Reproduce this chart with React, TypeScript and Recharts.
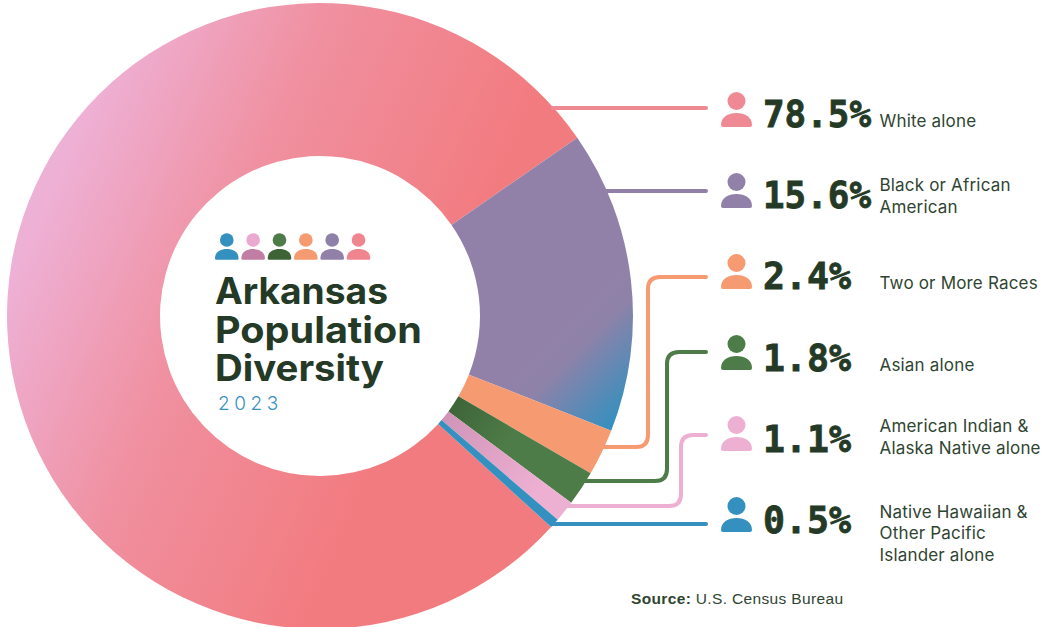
import { PieChart, Pie, Cell } from "recharts";

const categories = ["White alone", "Black or African American", "Two or More Races", "Asian alone", "American Indian & Alaska Native alone", "Native Hawaiian & Other Pacific Islander alone"];
const shares = [78.5, 15.6, 2.4, 1.8, 1.1, 0.5];
const shareLabels = ["78.5%", "15.6%", "2.4%", "1.8%", "1.1%", "0.5%"];
const labelLines = [["White alone"], ["Black or African", "American"], ["Two or More Races"], ["Asian alone"], ["American Indian &", "Alaska Native alone"], ["Native Hawaiian &", "Other Pacific", "Islander alone"]];
const sliceFills = ["url(#whiteFill)", "url(#blackFill)", "#f69a72", "url(#asianFill)", "url(#nativeFill)", "#3490bf"];
const rowColors = ["#ef8a95", "#9181a8", "#f69a72", "#4e7c48", "#eeb0d2", "#3490bf"];

// leader routing: row height on the right, then the elbow column and the height it leaves the ring at
const leaderY = [108, 191, 277, 352, 435, 524];
const elbowX = [0, 0, 648, 667, 681, 0];
const exitY = [0, 0, 447, 481, 506, 0];
const rowHeadY = [101, 182, 263, 344, 425, 506];
const numberBaseline = [127, 208, 289, 371, 452, 533];
const labelBaseline = [[127], [191, 213], [289], [371], [432, 454], [518, 539, 561]];
const numberWidths = [108, 108, 88, 88, 88, 88];

const titleLines = ["Arkansas", "Population", "Diversity"];
const titleWidths = [173, 207, 169];
const titleHeads = ["#3490bf", "#eaa9cf", "#4e7c48", "#f69a72", "#8f80a8", "#f0858f"];
const titleBodies = ["#3490bf", "#c27da4", "#3d6337", "#f69a72", "#9181a8", "#f0858f"];

const INK = "#243a26";
const tableData = categories.map((name, i) => ({ name, value: shares[i] }));

function Person({ x, headY, scale, head, body }: { x: number; headY: number; scale: number; head: string; body: string }) {
  return (
    <g transform={`translate(${x} ${headY}) scale(${scale})`}>
      <circle cx={15.5} cy={0} r={9} fill={head} />
      <path d="M0 24 C0 16 7 12 15.5 12 C24 12 31 16 31 24 Q31 26 29 26 H2 Q0 26 0 24 Z" fill={body} />
    </g>
  );
}

function renderRow(props: any) {
  const { index: i, cx, cy, outerRadius } = props;
  const y = leaderY[i];
  const low = exitY[i] || y;
  const startX = cx + Math.sqrt(outerRadius * outerRadius - (low - cy) * (low - cy)) - 1;
  const r = 12;
  const d = elbowX[i]
    ? `M${startX} ${low} H${elbowX[i] - r} Q${elbowX[i]} ${low} ${elbowX[i]} ${low - r} V${y + r} Q${elbowX[i]} ${y} ${elbowX[i] + r} ${y} H706`
    : `M${startX} ${y} H706`;
  return (
    <g key={categories[i]}>
      <path d={d} fill="none" stroke={rowColors[i]} strokeWidth={4} strokeLinecap="round" />
      <Person x={721} headY={rowHeadY[i]} scale={1} head={rowColors[i]} body={rowColors[i]} />
      <text x={763} y={numberBaseline[i]} fontFamily="'DejaVu Sans Mono'" fontWeight={700} fontSize={38} fill={INK} stroke={INK} strokeWidth={0.8} textLength={numberWidths[i]} lengthAdjust="spacingAndGlyphs">
        {shareLabels[i]}
      </text>
      {labelLines[i].map((line, j) => (
        <text key={line} x={879.5} y={labelBaseline[i][j]} fontFamily="Inter" fontSize={17} letterSpacing={0.18} fill="#2f4532">
          {line}
        </text>
      ))}
    </g>
  );
}

export default function App() {
  return (
    <div style={{ position: "absolute", left: 0, top: 0, width: 1042, height: 627, background: "#fff", overflow: "hidden" }}>
      <PieChart width={1042} height={627} margin={{ top: 0, right: 0, bottom: 0, left: 0 }}>
        <defs>
          <linearGradient id="whiteFill" gradientUnits="userSpaceOnUse" x1={20} y1={250} x2={400} y2={415}>
            <stop offset="0" stopColor="#eeb1d6" />
            <stop offset="0.45" stopColor="#f090a0" />
            <stop offset="1" stopColor="#f27b7f" />
          </linearGradient>
          <linearGradient id="blackFill" gradientUnits="userSpaceOnUse" x1={530} y1={350} x2={610} y2={430}>
            <stop offset="0" stopColor="#9181a8" />
            <stop offset="0.3" stopColor="#8e82a9" />
            <stop offset="1" stopColor="#3490bf" />
          </linearGradient>
          <linearGradient id="asianFill" gradientUnits="userSpaceOnUse" x1={450} y1={400} x2={510} y2={440}>
            <stop offset="0" stopColor="#3d6337" />
            <stop offset="1" stopColor="#4e7c48" />
          </linearGradient>
          <linearGradient id="nativeFill" gradientUnits="userSpaceOnUse" x1={440} y1={420} x2={530} y2={500}>
            <stop offset="0" stopColor="#cf94b8" />
            <stop offset="1" stopColor="#eeb0d2" />
          </linearGradient>
        </defs>
        <Pie
          data={tableData}
          dataKey="value"
          nameKey="name"
          cx={320}
          cy={316}
          innerRadius={160}
          outerRadius={313}
          startAngle={-42.4}
          endAngle={-402.4}
          paddingAngle={0}
          stroke="none"
          label={renderRow}
          labelLine={false}
          isAnimationActive={false}
        >
          {tableData.map((d, i) => (
            <Cell key={d.name} fill={sliceFills[i]} stroke="none" />
          ))}
        </Pie>
        {titleHeads.map((head, i) => (
          <Person key={i} x={215 + i * 26.35} headY={240} scale={0.76} head={head} body={titleBodies[i]} />
        ))}
        {titleLines.map((line, i) => (
          <text key={line} x={215} y={304 + i * 38.6} fontFamily="Inter" fontWeight={700} fontSize={36.5} fill={INK} textLength={titleWidths[i]} lengthAdjust="spacingAndGlyphs">
            {line}
          </text>
        ))}
        <text x={218} y={410} fontFamily="Inter" fontWeight={300} fontSize={19} letterSpacing={4.6} fill="#3a91c0">
          2023
        </text>
        <text x={631} y={604} fontFamily="'Liberation Sans'" fontSize={15.5} letterSpacing={0.35} fill="#2f4532">
          <tspan fontWeight={700}>Source:</tspan> U.S. Census Bureau
        </text>
      </PieChart>
    </div>
  );
}
